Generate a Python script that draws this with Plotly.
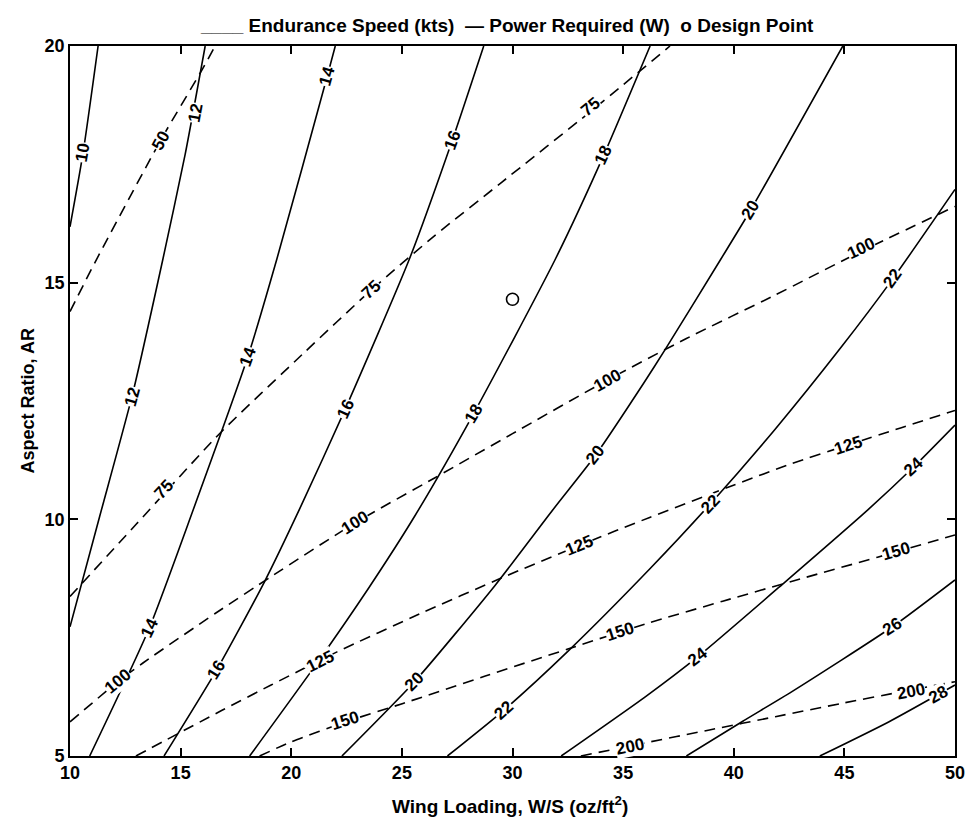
import math
import plotly.graph_objects as go

# ---------------- Endurance speed contours (kts): wing loading W/S, aspect ratio AR ----------------
v10_ws = [10.0, 10.59, 11.27]
v10_ar = [16.18, 17.74, 20.0]
v12_ws = [10.0, 11.34, 12.83, 14.2, 15.2, 16.11]
v12_ar = [7.73, 10.06, 12.65, 15.5, 17.7, 20.0]
v14_ws = [10.89, 13.58, 15.59, 18.04, 19.35, 21.62, 21.99]
v14_ar = [5.0, 7.70, 10.23, 13.44, 15.5, 19.35, 20.0]
v16_ws = [14.25, 16.63, 18.79, 20.39, 22.44, 25.34, 27.28, 28.70]
v16_ar = [5.0, 6.82, 8.68, 10.23, 12.33, 15.5, 18.01, 20.0]
v18_ws = [18.12, 21.10, 23.5, 25.57, 28.25, 31.94, 34.13, 36.22]
v18_ar = [5.0, 6.92, 8.55, 10.06, 12.24, 15.5, 17.70, 20.0]
v20_ws = [22.29, 25.57, 29.22, 31.87, 33.76, 35.92, 36.89, 39.42, 40.77, 44.93]
v20_ar = [5.0, 6.57, 8.61, 10.23, 11.36, 12.87, 13.58, 15.5, 16.54, 20.0]
v22_ws = [27.06, 29.59, 32.50, 36.2, 38.93, 41.88, 44.86, 47.17, 50.0]
v22_ar = [5.0, 5.96, 7.21, 8.95, 10.32, 11.91, 13.64, 15.07, 16.97]
v24_ws = [32.20, 36.0, 38.38, 42.33, 46.06, 48.14, 50.0]
v24_ar = [5.0, 6.25, 7.10, 8.68, 10.2, 11.11, 11.99]
v26_ws = [37.86, 40.39, 42.63, 47.17, 50.0]
v26_ar = [5.0, 5.73, 6.36, 7.73, 8.72]
v28_ws = [43.89, 47.0, 50.0]
v28_ar = [5.0, 5.72, 6.50]

# ---------------- Power required contours (W) ----------------
p50_ws = [10.0, 11.12, 14.10, 15.96, 16.56]
p50_ar = [14.39, 15.42, 18.01, 19.49, 20.0]
p75_ws = [10.0, 13.0, 16.78, 20.58, 23.63, 26.5, 29.51, 33.54, 37.12]
p75_ar = [8.37, 9.9, 11.82, 13.52, 14.85, 16.0, 17.12, 18.62, 20.0]
p100_ws = [10.0, 12.16, 13.28, 16.56, 19.09, 22.9, 26.5, 30.0, 34.28, 37.86, 41.88, 45.75, 50.0]
p100_ar = [5.72, 6.57, 6.96, 8.01, 8.79, 9.93, 10.88, 11.81, 12.94, 13.82, 14.74, 15.66, 16.61]
p125_ws = [12.98, 16.85, 19.09, 22.07, 25.79, 29.52, 33.02, 36.2, 39.65, 42.63, 45.16, 47.54, 50.0]
p125_ar = [5.0, 5.96, 6.50, 7.20, 8.0, 8.765, 9.45, 10.04, 10.66, 11.18, 11.57, 11.93, 12.30]
p150_ws = [18.57, 20.0, 22.45, 25.05, 28.77, 32.5, 36.0, 39.5, 43.0, 46.5, 50.0]
p150_ar = [5.0, 5.30, 5.72, 6.11, 6.69, 7.26, 7.79, 8.27, 8.74, 9.2, 9.67]
p200_ws = [33.09, 35.92, 38.9, 41.88, 44.86, 47.5, 50.0]
p200_ar = [5.0, 5.27, 5.55, 5.83, 6.11, 6.35, 6.57]

speed_levels = [10, 12, 14, 16, 18, 20, 22, 24, 26, 28]
power_levels = [50, 75, 100, 125, 150, 200]

# contour label positions
speed_lbl_lvl = [10, 12, 12, 14, 14, 14, 16, 16, 16, 18, 18, 18, 20, 20, 20, 22, 22, 22, 24, 24, 26, 28]
speed_lbl_ws = [10.59, 15.66, 12.83, 21.62, 18.04, 13.58, 27.28, 22.44, 16.63, 34.13, 28.25, 21.10,
                40.77, 33.76, 25.57, 47.17, 38.93, 29.59, 48.14, 38.38, 47.17, 49.26]
speed_lbl_ar = [17.74, 18.58, 12.59, 19.35, 13.44, 7.70, 18.01, 12.33, 6.82, 17.70, 12.24, 6.96,
                16.54, 11.36, 6.57, 15.09, 10.32, 5.97, 11.11, 7.10, 7.73, 6.29]
power_lbl_lvl = [50, 75, 75, 75, 100, 100, 100, 100, 125, 125, 125, 150, 150, 150, 200, 200]
power_lbl_ws = [14.10, 33.54, 23.63, 14.25, 45.75, 34.28, 22.9, 12.16, 45.16, 33.02, 21.3, 47.32, 34.88, 22.45, 47.99, 35.33]
power_lbl_ar = [18.01, 18.72, 14.85, 10.62, 15.72, 12.94, 9.93, 6.57, 11.57, 9.45, 7.0, 9.32, 7.63, 5.74, 6.36, 5.20]

design_ws = [30.0]
design_ar = [14.65]

speed_lines = dict(zip(speed_levels, [(v10_ws, v10_ar), (v12_ws, v12_ar), (v14_ws, v14_ar), (v16_ws, v16_ar),
                                      (v18_ws, v18_ar), (v20_ws, v20_ar), (v22_ws, v22_ar), (v24_ws, v24_ar),
                                      (v26_ws, v26_ar), (v28_ws, v28_ar)]))
power_lines = dict(zip(power_levels, [(p50_ws, p50_ar), (p75_ws, p75_ar), (p100_ws, p100_ar),
                                      (p125_ws, p125_ar), (p150_ws, p150_ar), (p200_ws, p200_ar)]))

# ---------------- layout geometry ----------------
W, H = 976, 818
ML, MR, MT, MB = 70, 11, 46, 62
PW, PH = W - ML - MR, H - MT - MB
XR, YR = (10, 50), (5, 20)
SX = PW / (XR[1] - XR[0])
SY = PH / (YR[1] - YR[0])
FONT = "Liberation Sans, Arial, Helvetica, sans-serif"


def label_angle(xs, ys, lx, ly):
    best, bi = None, 0
    for i in range(len(xs) - 1):
        ax, ay = xs[i] * SX, ys[i] * SY
        bx, by = xs[i + 1] * SX, ys[i + 1] * SY
        px, py = lx * SX, ly * SY
        dx, dy = bx - ax, by - ay
        L2 = dx * dx + dy * dy
        t = max(0.0, min(1.0, ((px - ax) * dx + (py - ay) * dy) / L2)) if L2 else 0.0
        d = (ax + t * dx - px) ** 2 + (ay + t * dy - py) ** 2
        if best is None or d < best:
            best, bi = d, i
    dx = (xs[bi + 1] - xs[bi]) * SX
    dy = (ys[bi + 1] - ys[bi]) * SY
    a = math.degrees(math.atan2(dy, dx))
    if a > 90:
        a -= 180
    if a <= -90:
        a += 180
    return -a


fig = go.Figure()
for lvl, (xs, ys) in speed_lines.items():
    fig.add_trace(go.Scatter(x=xs, y=ys, mode="lines",
                             line=dict(color="black", width=1.6, shape="spline", smoothing=0.6),
                             hoverinfo="skip", name=f"{lvl} kts"))
for lvl, (xs, ys) in power_lines.items():
    fig.add_trace(go.Scatter(x=xs, y=ys, mode="lines",
                             line=dict(color="black", width=1.6, dash="11px,7px", shape="spline", smoothing=0.6),
                             hoverinfo="skip", name=f"{lvl} W"))
fig.add_trace(go.Scatter(x=design_ws, y=design_ar, mode="markers",
                         marker=dict(symbol="circle-open", size=12, color="black", line=dict(width=1.6)),
                         name="Design Point"))

annotations = []
lbl_font = dict(family=FONT, size=17, color="black", weight="bold")
for lvl, lx, ly in zip(speed_lbl_lvl, speed_lbl_ws, speed_lbl_ar):
    xs, ys = speed_lines[lvl]
    annotations.append(dict(x=lx, y=ly, xref="x", yref="y", text=str(lvl), showarrow=False,
                            textangle=label_angle(xs, ys, lx, ly), font=lbl_font,
                            bgcolor="white", borderpad=0, xanchor="center", yanchor="middle"))
for lvl, lx, ly in zip(power_lbl_lvl, power_lbl_ws, power_lbl_ar):
    xs, ys = power_lines[lvl]
    annotations.append(dict(x=lx, y=ly, xref="x", yref="y", text=str(lvl), showarrow=False,
                            textangle=label_angle(xs, ys, lx, ly), font=lbl_font,
                            bgcolor="white", borderpad=0, xanchor="center", yanchor="middle"))

# legend line (text at top)
annotations.append(dict(x=(512 - ML) / PW, y=(H - MB - 25) / PH, xref="paper", yref="paper",
                        text="____ Endurance Speed (kts)\u00a0\u00a0\u2014 Power Required (W)\u00a0\u00a0o Design Point",
                        showarrow=False, xanchor="center", yanchor="middle",
                        font=dict(family=FONT, size=19, color="black", weight="bold")))
# axis titles
annotations.append(dict(x=(515 - ML) / PW, y=-(805 - (H - MB)) / PH, xref="paper", yref="paper",
                        text="Wing Loading, W/S (oz/ft<sup>2</sup>)", showarrow=False,
                        xanchor="center", yanchor="middle",
                        font=dict(family=FONT, size=19, color="black", weight="bold")))
annotations.append(dict(x=-(ML - 28) / PW, y=0.5, xref="paper", yref="paper",
                        text="Aspect Ratio, AR", showarrow=False, textangle=-90,
                        xanchor="center", yanchor="middle",
                        font=dict(family=FONT, size=18, color="black", weight="bold")))

axis_common = dict(showline=True, linecolor="black", linewidth=1.6, mirror="ticks", ticks="inside",
                   ticklen=8, tickwidth=1.5, tickcolor="black", showgrid=False, zeroline=False,
                   tickfont=dict(family=FONT, size=18, color="black", weight="bold"))

fig.update_layout(
    width=W, height=H, autosize=False,
    margin=dict(l=ML, r=MR, t=MT, b=MB),
    paper_bgcolor="white", plot_bgcolor="white",
    showlegend=False,
    xaxis=dict(range=list(XR), tickvals=[10, 15, 20, 25, 30, 35, 40, 45, 50], **axis_common),
    yaxis=dict(range=list(YR), tickvals=[5, 10, 15, 20], **axis_common),
    annotations=annotations,
)

fig.write_html("out.html")
